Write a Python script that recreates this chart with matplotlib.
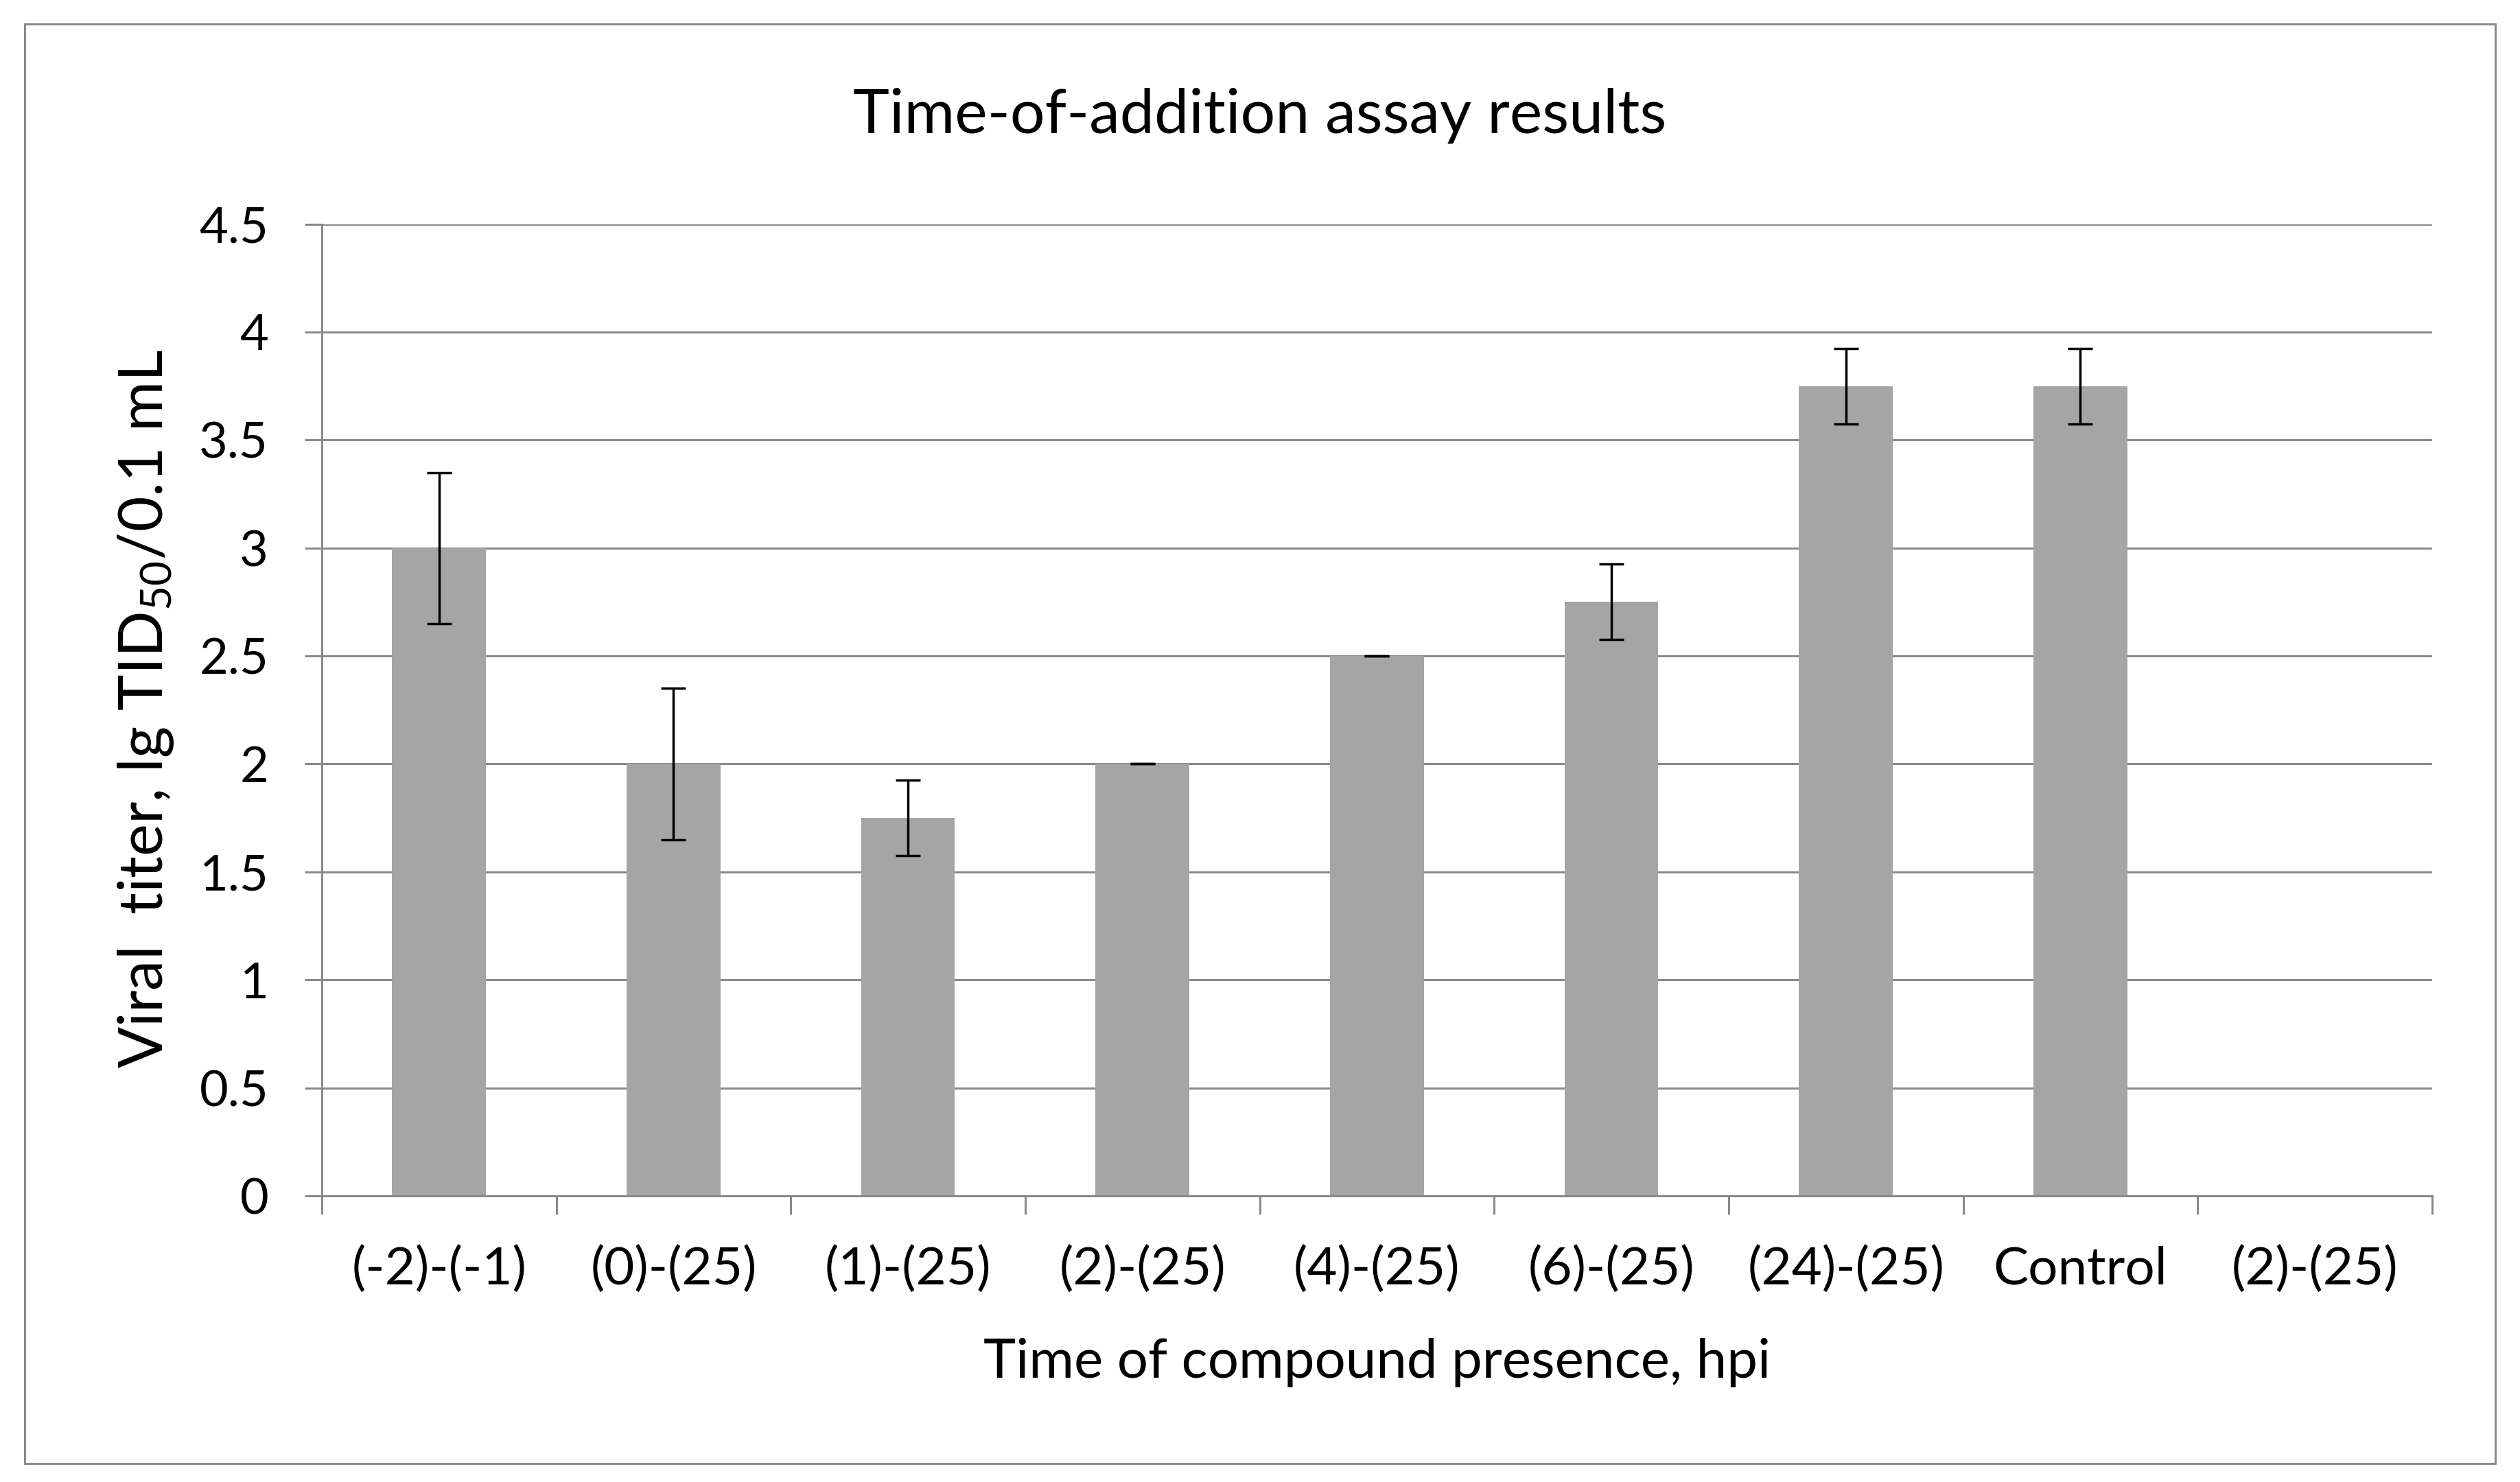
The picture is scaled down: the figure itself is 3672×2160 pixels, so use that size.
#############################################################################
# Time-of-addition assay: viral titer per compound presence window.
# Excel-style gray bars with error bars, redrawn in matplotlib.

import matplotlib
matplotlib.use('Agg')
import matplotlib.pyplot as plt
from matplotlib.patches import Rectangle
from matplotlib.ticker import FixedLocator
import numpy as np

plt.rcParams['font.family'] = 'Lato'
plt.rcParams['mathtext.fontset'] = 'custom'
plt.rcParams['mathtext.rm'] = 'Lato'
plt.rcParams['mathtext.it'] = 'Lato:italic'

CATEGORIES = ['(-2)-(-1)', '(0)-(25)', '(1)-(25)', '(2)-(25)', '(4)-(25)',
              '(6)-(25)', '(24)-(25)', 'Control', '(2)-(25)']
TITERS = [3.0, 2.0, 1.75, 2.0, 2.5, 2.75, 3.75, 3.75, np.nan]
ERRORS = [0.35, 0.35, 0.175, 0.0, 0.0, 0.175, 0.175, 0.175, np.nan]
Y_TICKS = [0, 0.5, 1, 1.5, 2, 2.5, 3, 3.5, 4, 4.5]
Y_TICK_LABELS = ['0', '0.5', '1', '1.5', '2', '2.5', '3', '3.5', '4', '4.5']

GRID_GRAY = '#898989'
BAR_GRAY = '#a5a5a5'
LW = 2.16  # 3 px at 100 dpi

fig = plt.figure(figsize=(36.72, 21.6), dpi=100)
ax = fig.add_axes([0.1277, 0.1931, 0.9651 - 0.1277, 0.8488 - 0.1931])

x = np.arange(len(CATEGORIES))
ax.bar(x, TITERS, width=0.40, color=BAR_GRAY, zorder=2)
ax.errorbar(x, TITERS, yerr=ERRORS, fmt='none', ecolor='black',
            elinewidth=2.5, capsize=13, capthick=2.5, zorder=3)

ax.set_xlim(-0.5, len(CATEGORIES) - 0.5)
ax.set_ylim(0, 4.5)
ax.set_yticks(Y_TICKS, Y_TICK_LABELS)
ax.set_xticks(x, CATEGORIES)
ax.xaxis.set_minor_locator(FixedLocator(np.arange(-0.5, len(CATEGORIES), 1.0)))

ax.grid(axis='y', color=GRID_GRAY, linewidth=LW, zorder=1)
ax.set_axisbelow(True)
for side in ['top', 'right']:
    ax.spines[side].set_visible(False)
for side in ['left', 'bottom']:
    ax.spines[side].set_color(GRID_GRAY)
    ax.spines[side].set_linewidth(LW)

ax.tick_params(axis='y', which='major', length=18, width=LW, color=GRID_GRAY,
               pad=38, labelsize=52)
ax.tick_params(axis='x', which='major', length=0, pad=52, labelsize=55)
ax.tick_params(axis='x', which='minor', length=19.4, width=LW, color=GRID_GRAY)

fig.text(0.5, 0.9106, 'Time-of-addition assay results', ha='center',
         va='baseline', fontsize=64.5)
fig.text(0.5465, 0.0704, 'Time of compound presence, hpi', ha='center',
         va='baseline', fontsize=57.5)
fig.text(0.0645, 0.5218, r'Viral  titer, lg TID$_{50}$/0.1 mL', rotation=90,
         rotation_mode='anchor', ha='center', va='baseline', fontsize=64)

# outer chart border
fig.patches.append(Rectangle((0.0098, 0.0125), 0.9804, 0.9713,
                             transform=fig.transFigure, fill=False,
                             edgecolor=GRID_GRAY, linewidth=LW))

fig.savefig('out.png', dpi=100)
